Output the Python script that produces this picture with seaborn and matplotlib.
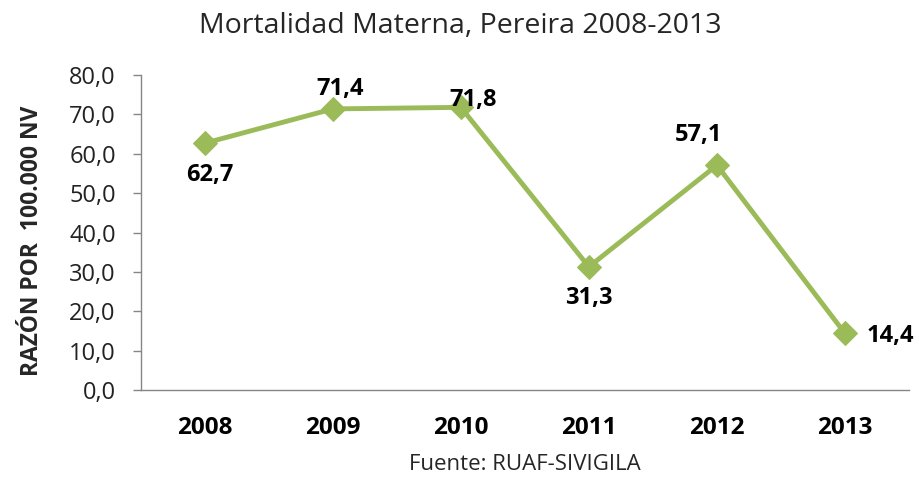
import pandas as pd
import matplotlib
matplotlib.use('Agg')
import matplotlib.pyplot as plt
import seaborn as sns

# --- Data ---
years = ['2008', '2009', '2010', '2011', '2012', '2013']
razon = [62.7, 71.4, 71.8, 31.3, 57.1, 14.4]
# label offsets in pixels (dx, dy) relative to each point
label_offsets = [(5, -32), (7, 20), (12, 7), (0, -31), (-18, 30), (45, -3)]

df = pd.DataFrame({'Año': years, 'Razón': razon})

sns.set_style('white')
plt.rcParams['font.family'] = ['Open Sans', 'DejaVu Sans']

green = '#9BBB59'
grey = '#868686'

fig = plt.figure(figsize=(9.2, 4.78), dpi=100)
ax = fig.add_axes([0.153, 0.184, 0.835, 0.659])

sns.lineplot(data=df, x='Año', y='Razón', ax=ax, color=green, linewidth=3.5,
             marker='D', markersize=12, markeredgecolor=green, sort=False)

for i, (y, v) in enumerate(zip(years, razon)):
    dx, dy = label_offsets[i]
    ax.annotate(f'{v:.1f}'.replace('.', ','), (i, v), xytext=(dx, dy),
                textcoords='offset pixels', ha='center', va='center',
                fontsize=17, fontweight='bold', color='black')

ax.set_xlim(-0.5, 5.5)
ax.set_ylim(0, 80)
ax.set_yticks(range(0, 81, 10))
ax.set_yticklabels([f'{t:.1f}'.replace('.', ',') for t in range(0, 81, 10)],
                   fontsize=17, color='#222222')
ax.set_xticks(range(len(years)))
ax.set_xticklabels(years, fontsize=17.5, fontweight='bold', color='black')
ax.tick_params(axis='y', which='major', left=True, length=6, width=1, color=grey, pad=12)
ax.tick_params(axis='x', bottom=False, pad=15)

for side in ['top', 'right']:
    ax.spines[side].set_visible(False)
for side in ['left', 'bottom']:
    ax.spines[side].set_color(grey)
    ax.spines[side].set_linewidth(1)

ax.set_xlabel('Fuente: RUAF-SIVIGILA', fontsize=16, labelpad=10)
ax.set_ylabel('RAZÓN POR  100.000 NV', fontsize=16.5, fontweight='bold',
              labelpad=18, y=0.475)
fig.suptitle('Mortalidad Materna, Pereira 2008-2013', fontsize=20.5, y=0.975)

fig.savefig('out.png', dpi=100)
